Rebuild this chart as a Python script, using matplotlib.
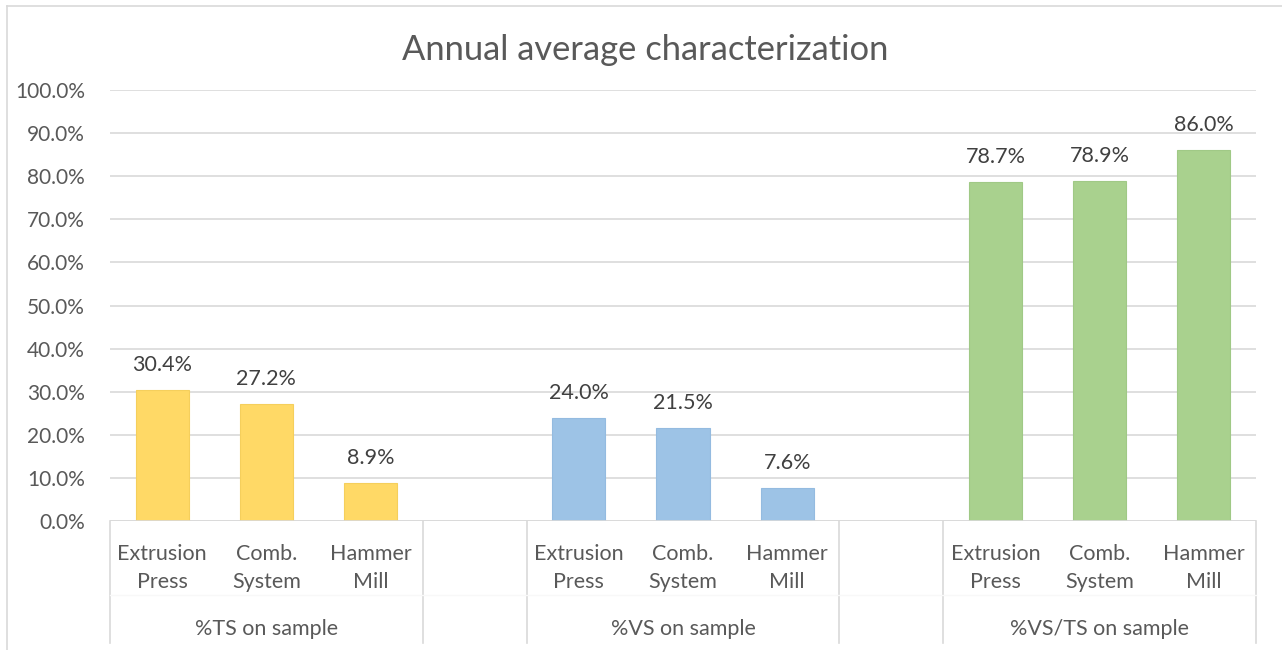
import matplotlib.pyplot as plt
from matplotlib.lines import Line2D
from matplotlib.ticker import PercentFormatter

plt.rcParams['font.family'] = ['Lato', 'DejaVu Sans']

# données
machines = ["Extrusion\nPress", "Comb.\nSystem", "Hammer\nMill"]
groups = ["%TS on sample", "%VS on sample", "%VS/TS on sample"]
ts_values = [0.304, 0.272, 0.089]
vs_values = [0.240, 0.215, 0.076]
vsts_values = [0.787, 0.789, 0.860]
colors = ["#FFD966", "#9DC3E6", "#A9D18E"]
edges = ["#F5CF5C", "#94BBE0", "#A0C986"]

W, H = 1282, 650
fig = plt.figure(figsize=(W / 100, H / 100), dpi=100)
ax = fig.add_axes([110 / W, (H - 521) / H, (1256 - 110) / W, (521 - 90) / H])

txt = "#404040"
grid = "#D9D9D9"
fs = 15.5

series = [ts_values, vs_values, vsts_values]
for g, vals in enumerate(series):
  xs = [g * 4 + i for i in range(len(vals))]
  ax.bar(xs, vals, width=0.51, color=colors[g], edgecolor=edges[g],
         linewidth=0.8, zorder=3)
  for x, v in zip(xs, vals):
    ax.text(x, v + 0.058, f"{v * 100:.1f}%", ha='center', va='center',
            fontsize=fs, color=txt)
  # libellés de catégories
  for x, m in zip(xs, machines):
    ax.text(x, -0.11, m, transform=ax.get_xaxis_transform(), ha='center',
            va='center', fontsize=fs, color="#595959", linespacing=1.5)
  ax.text(g * 4 + 1, -0.25, groups[g], transform=ax.get_xaxis_transform(),
          ha='center', va='center', fontsize=fs, color="#595959")

ax.set_xlim(-0.5, 10.5)
ax.set_ylim(0, 1.0)
ax.set_yticks([i / 10 for i in range(11)])
ax.yaxis.set_major_formatter(PercentFormatter(1.0, decimals=1))
ax.tick_params(axis='y', length=0, labelsize=15, labelcolor="#595959", pad=18)
ax.set_xticks([])
ax.grid(axis='y', color=grid, linewidth=1.2, zorder=0)
for s in ax.spines.values():
  s.set_visible(False)
ax.axhline(0, color=grid, linewidth=1.2, zorder=4)

# séparateurs de l'axe multi-niveaux
tr = ax.get_xaxis_transform()
for x in [-0.5, 2.5, 3.5, 6.5, 7.5, 10.5]:
  ax.add_line(Line2D([x, x], [0, -0.283], transform=tr, color=grid,
                     linewidth=1.2, clip_on=False))
ax.add_line(Line2D([-0.5, 10.5], [-0.172, -0.172], transform=tr, color="#F8F8F8",
                   linewidth=1.0, clip_on=False))

fig.text(645 / W, 1 - 50 / H, "Annual average characterization", ha='center',
         va='center', fontsize=24.8, color="#595959")

# cadre
fig.add_artist(Line2D([7 / W, 7 / W], [0, 1 - 6 / H], color=grid, linewidth=1.2))
fig.add_artist(Line2D([7 / W, 1], [1 - 6 / H, 1 - 6 / H], color=grid, linewidth=1.2))

fig.savefig("out.png", dpi=100)
